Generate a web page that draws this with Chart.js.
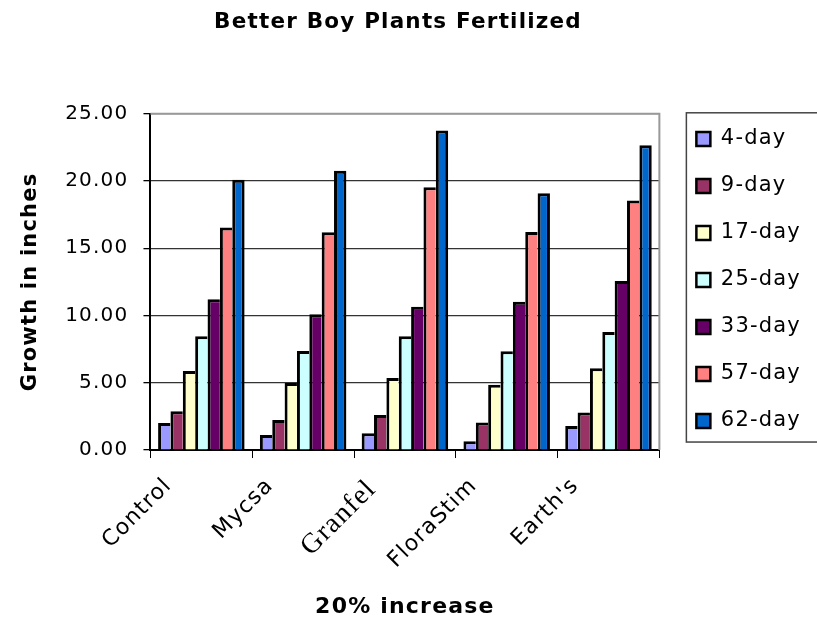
<!DOCTYPE html>
<html>
<head>
<meta charset="utf-8">
<script src="https://cdn.jsdelivr.net/npm/chart.js@4.4.0/dist/chart.umd.min.js"></script>
<style>
  html,body{margin:0;padding:0;background:#fff;}
  #wrap{width:817px;height:620px;}
</style>
</head>
<body>
<div id="wrap"><canvas id="canvas-1" width="817" height="620"></canvas></div>
<script>
// categories (fertilizers) and the growth per measuring day
var categories=['Control','Mycsa','Granfel','FloraStim',"Earth's"];
var seriesNames=['4-day','9-day','17-day','25-day','33-day','57-day','62-day'];
var day4=[2.01,1.12,1.24,0.65,1.79];
var day9=[2.89,2.24,2.61,2.04,2.79];
var day17=[5.87,4.98,5.35,4.85,6.09];
var day25=[8.46,7.36,8.46,7.34,8.78];
var day33=[11.22,10.10,10.65,11.02,12.56];
var day57=[16.54,16.20,19.53,16.22,18.56];
var day62=[20.10,20.77,23.76,19.10,22.66];
var yTicks=[0,5,10,15,20,25];

var seriesValues=[day4,day9,day17,day25,day33,day57,day62];
var colours=['#9999FF','#993366','#FFFFCC','#CCFFFF','#660066','#FF8080','#0066CC'];

// neighbouring bars share one outline, so only the last bar of a group gets a right edge
var datasets=seriesNames.map(function(name,i){
  var last=i===seriesNames.length-1;
  return {label:name,data:seriesValues[i],backgroundColor:colours[i],borderColor:'#000',
    borderWidth:{top:3,left:3,right:last?3:0,bottom:0},
    borderSkipped:false,barPercentage:1.0,categoryPercentage:0.85};
});

// the old spreadsheet text is wide, so space the letters a bit
var spacing='1.2px';
var framePlugin={
  id:'frame',
  beforeUpdate:function(chart){chart.ctx.letterSpacing=spacing;},
  beforeDraw:function(chart){chart.ctx.letterSpacing=spacing;},
  afterLayout:function(chart){
    var lg=chart.legend,t=chart.titleBlock;
    if(lg){lg.left+=11;lg.right+=11;}
    if(t){t.left-=9;t.right-=9;}
  },
  afterDraw:function(chart){
    var c=chart.ctx,a=chart.chartArea,lg=chart.legend;
    c.save();
    c.strokeStyle='#999';c.lineWidth=2;
    c.beginPath();c.moveTo(a.left,a.top);c.lineTo(a.right,a.top);c.lineTo(a.right,a.bottom);c.stroke();
    if(lg&&lg.legendHitBoxes&&lg.legendHitBoxes.length){
      var minX=lg.legendHitBoxes[0].left;
      c.strokeStyle='#444';c.lineWidth=1.5;
      c.strokeRect(minX-10,a.top-1,chart.width-minX+20,a.bottom-a.top-7);
    }
    c.restore();
  }
};

var ctx=document.getElementById('canvas-1');
var chart=new Chart(ctx,{
  type:'bar',
  data:{labels:categories,datasets:datasets},
  options:{
    responsive:false,animation:false,
    layout:{padding:{left:14,right:17,top:10,bottom:0}},
    plugins:{
      title:{display:true,text:'Better Boy Plants Fertilized',color:'#000',
        font:{family:'DejaVu Sans',size:21.5,weight:'bold'},padding:{top:0,bottom:78}},
      legend:{position:'right',fullSize:true,align:'start',
        title:{display:true,text:' ',font:{size:12},padding:{top:78,bottom:0}},
        labels:{color:'#000',font:{family:'DejaVu Sans',size:21},boxWidth:14,boxHeight:14,padding:26,
          generateLabels:function(chart){
            var items=Chart.defaults.plugins.legend.labels.generateLabels(chart);
            items.forEach(function(it){it.lineWidth=2.5;});
            return items;
          }}},
      tooltip:{enabled:false}
    },
    scales:{
      x:{
        grid:{display:true,drawOnChartArea:false,offset:true,tickLength:8,color:'#000',tickColor:'#000'},
        border:{display:true,color:'#000',width:2},
        ticks:{color:'#000',minRotation:45,maxRotation:45,padding:15,labelOffset:-33,
          font:function(c){return c.index===2?{family:'Liberation Serif',size:28}:{family:'DejaVu Sans',size:22};}},
        title:{display:true,text:'20% increase',color:'#000',font:{family:'DejaVu Sans',size:22,weight:'bold'},padding:{top:0,bottom:0}}
      },
      y:{
        min:0,max:25,
        afterBuildTicks:function(s){s.ticks=yTicks.map(function(v){return {value:v};});},
        grid:{color:function(c){return c.tick&&c.tick.value===25?'#999':'#333';},lineWidth:1.3,tickLength:7,tickColor:'#000'},
        border:{display:true,color:'#000',width:2},
        ticks:{color:'#000',padding:15,font:{family:'DejaVu Sans',size:20},
          callback:function(v){return Number(v).toFixed(2);}},
        title:{display:true,text:'Growth in inches',color:'#000',font:{family:'DejaVu Sans',size:21,weight:'bold'},padding:{top:4,bottom:7}}
      }
    }
  },
  plugins:[framePlugin]
});
</script>
</body>
</html>
